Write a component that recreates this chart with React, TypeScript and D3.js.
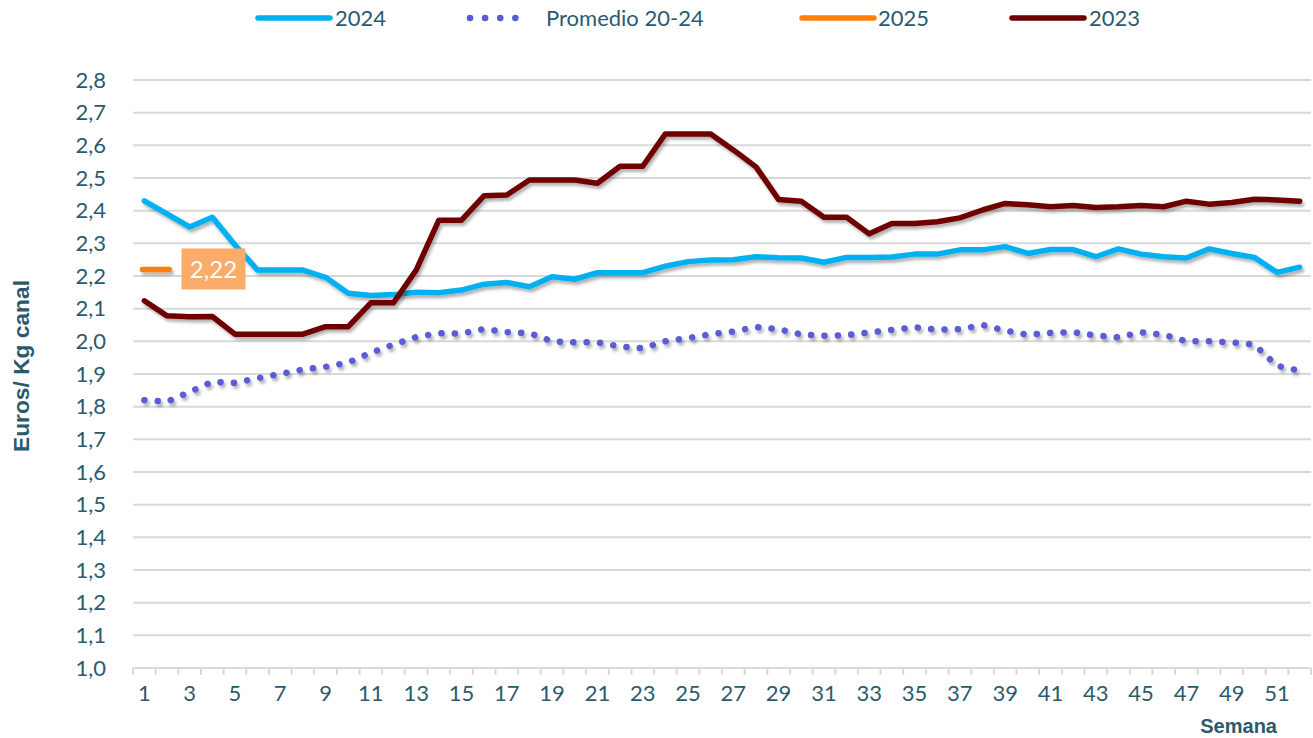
import React from 'react';
import * as d3 from 'd3';

const weeks = d3.range(1, 53);

const serie2024 = [2.43, 2.39, 2.35, 2.38, 2.295, 2.218, 2.218, 2.218, 2.196, 2.147, 2.14, 2.143, 2.15,
  2.149, 2.157, 2.175, 2.18, 2.167, 2.198, 2.19, 2.21, 2.21, 2.21, 2.23, 2.244, 2.249, 2.25,
  2.259, 2.256, 2.255, 2.242, 2.257, 2.257, 2.258, 2.267, 2.267, 2.28, 2.28, 2.29, 2.269,
  2.281, 2.281, 2.259, 2.283, 2.267, 2.259, 2.255, 2.283, 2.269, 2.257, 2.211, 2.227];

const serie2023 = [2.124, 2.078, 2.075, 2.076, 2.022, 2.022, 2.022, 2.022, 2.045, 2.045, 2.118, 2.118,
  2.218, 2.371, 2.371, 2.446, 2.448, 2.494, 2.494, 2.494, 2.484, 2.536, 2.536, 2.635, 2.635,
  2.635, 2.586, 2.534, 2.434, 2.429, 2.38, 2.38, 2.329, 2.361, 2.361, 2.366, 2.378, 2.402,
  2.422, 2.418, 2.412, 2.416, 2.41, 2.412, 2.416, 2.412, 2.429, 2.42, 2.425, 2.435, 2.433, 2.429];

const promedio = [1.82, 1.815, 1.845, 1.876, 1.873, 1.887, 1.9, 1.914, 1.922, 1.935, 1.965, 1.99, 2.013,
  2.025, 2.024, 2.038, 2.028, 2.025, 2.0, 1.997, 1.997, 1.984, 1.979, 2.0, 2.01, 2.022, 2.03,
  2.044, 2.037, 2.021, 2.017, 2.019, 2.027, 2.035, 2.043, 2.036, 2.037, 2.05, 2.033, 2.02,
  2.026, 2.028, 2.018, 2.012, 2.028, 2.02, 2.0, 2.0, 1.997, 1.99, 1.925, 1.91];

const serie2025 = [2.22];

const yTicks = d3.range(10, 29).map(v => v / 10);
const xLabels = weeks.filter(w => w % 2 === 1);

const legendItems = [
  {name: '2024', color: '#00B0F0', dotted: false},
  {name: 'Promedio 20-24', color: '#5B5BD6', dotted: true},
  {name: '2025', color: '#FF7F0F', dotted: false},
  {name: '2023', color: '#6E0000', dotted: false},
];

const W = 1313, H = 738;
const m = {left: 133, right: 2, top: 80, bottom: 70};
const textColor = '#2B5A6E';
const fontNum = 'Lato, "Open Sans", sans-serif';
const fontBold = '"Liberation Sans", Arial, sans-serif';

export default function App() {
  const x = d3.scaleLinear().domain([0.5, 52.5]).range([m.left, W - m.right]);
  const y = d3.scaleLinear().domain([1.0, 2.8]).range([H - m.bottom, m.top]);
  const bw = x(2) - x(1);

  const line = d3.line<number>().x((_, i) => x(weeks[i])).y(d => y(d));

  const legendX = [258, 468, 802, 1012];
  const legendTextX = [335, 546, 878, 1089];

  return (
    <svg width={W} height={H} style={{position: 'absolute', left: 0, top: 0, background: '#fff'}}>
      <defs>
        <filter id="sh" filterUnits="userSpaceOnUse" x={0} y={0} width={W} height={H}>
          <feDropShadow dx="2" dy="3" stdDeviation="1.6" floodColor="#000" floodOpacity="0.3"/>
        </filter>
      </defs>

      {/* gridlines */}
      {yTicks.map(t => (
        <line key={t} x1={m.left} x2={W - m.right} y1={y(t)} y2={y(t)}
              stroke="#D9D9D9" strokeWidth={2}/>
      ))}
      {/* axis ticks */}
      {d3.range(0, 53).map(k => (
        <line key={k} x1={x(k + 0.5)} x2={x(k + 0.5)} y1={y(1.0)} y2={y(1.0) + 7}
              stroke="#D9D9D9" strokeWidth={2}/>
      ))}

      {/* y labels */}
      {yTicks.map(t => (
        <text key={t} x={106} y={y(t)} dy="0.35em" textAnchor="end" fill={textColor}
              fontFamily={fontNum} fontSize={22}>{t.toFixed(1).replace('.', ',')}</text>
      ))}
      {/* x labels */}
      {xLabels.map(w => (
        <text key={w} x={x(w)} y={y(1.0) + 25} dy="0.35em" textAnchor="middle" fill={textColor}
              fontFamily={fontNum} fontSize={22}>{w}</text>
      ))}

      <text transform="translate(29,366) rotate(-90)" textAnchor="middle" fill={textColor}
            fontFamily={fontBold} fontWeight="bold" fontSize={22}
            textLength={172} lengthAdjust="spacingAndGlyphs">Euros/ Kg canal</text>
      <text x={1277} y={733} textAnchor="end" fill={textColor}
            fontFamily={fontBold} fontWeight="bold" fontSize={20}>Semana</text>

      {/* series */}
      <path d={line(promedio) || ''} fill="none" stroke="#5B5BD6" strokeWidth={6.5}
            strokeLinecap="round" strokeDasharray="0.1 13.3" filter="url(#sh)"/>
      <path d={line(serie2024) || ''} fill="none" stroke="#00B0F0" strokeWidth={5.5}
            strokeLinejoin="round" strokeLinecap="round" filter="url(#sh)"/>
      <path d={line(serie2023) || ''} fill="none" stroke="#6E0000" strokeWidth={5.5}
            strokeLinejoin="round" strokeLinecap="round" filter="url(#sh)"/>

      {/* 2025 single point */}
      {serie2025.map((v, i) => (
        <g key={i}>
          <line x1={x(weeks[i]) - bw * 0.08} x2={x(weeks[i]) + bw * 1.1} y1={y(v)} y2={y(v)}
                stroke="#FF7F0F" strokeWidth={5.5} strokeLinecap="round" filter="url(#sh)"/>
          <rect x={x(weeks[i]) + bw * 1.64} y={y(v) - 21} width={64} height={41} fill="#FBAC6B"/>
          <text x={x(weeks[i]) + bw * 1.64 + 32} y={y(v)} dy="0.36em" textAnchor="middle" fill="#fff"
                fontFamily={fontNum} fontSize={24}>{v.toFixed(2).replace('.', ',')}</text>
        </g>
      ))}

      {/* legend */}
      {legendItems.map((it, i) => (
        <g key={it.name}>
          {it.dotted ? (
            <line x1={legendX[i] + 2} x2={legendX[i] + 62} y1={18} y2={18} stroke={it.color}
                  strokeWidth={6.5} strokeLinecap="round" strokeDasharray="0.1 15"/>
          ) : (
            <line x1={legendX[i]} x2={legendX[i] + 72} y1={18} y2={18} stroke={it.color}
                  strokeWidth={5.5} strokeLinecap="round"/>
          )}
          <text x={legendTextX[i]} y={18} dy="0.36em" fill={textColor} fontFamily={fontNum}
                fontSize={22}>{it.name}</text>
        </g>
      ))}
    </svg>
  );
}
